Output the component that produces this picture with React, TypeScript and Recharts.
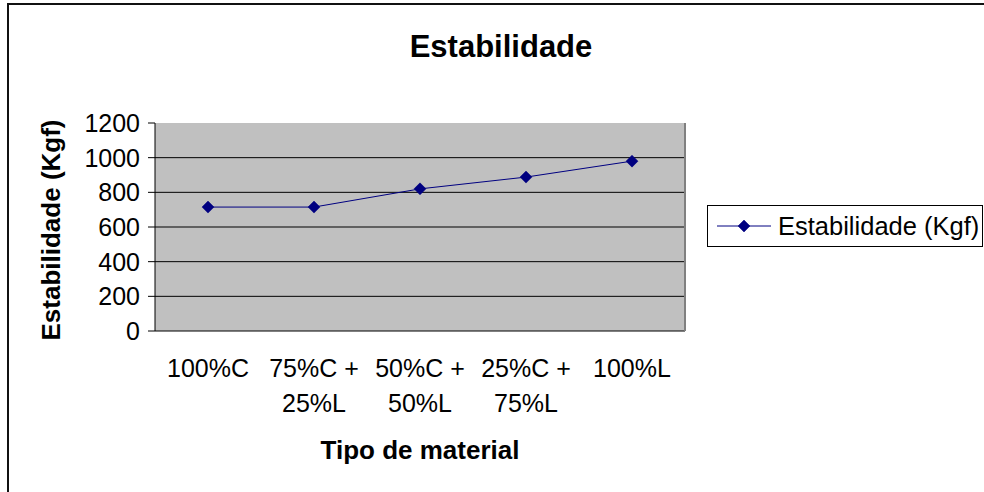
import React from 'react';
import { LineChart, Line, XAxis, YAxis, CartesianGrid, Legend, Label } from 'recharts';

const chartTitle = 'Estabilidade';
const xTitle = 'Tipo de material';
const yTitle = 'Estabilidade (Kgf)';
const seriesName = 'Estabilidade (Kgf)';

const categories = ['100%C', '75%C + 25%L', '50%C + 50%L', '25%C + 75%L', '100%L'];
const tickLabelLines = [['100%C'], ['75%C +', '25%L'], ['50%C +', '50%L'], ['25%C +', '75%L'], ['100%L']];
const values = [715, 715, 820, 888, 980];
const yTicks = [0, 200, 400, 600, 800, 1000, 1200];
const gridValues = [0, 200, 400, 600, 800, 1000];
const boundaryTicks = [0, 1, 2, 3, 4, 5];

const data = categories.map((c, i) => ({ name: c, value: values[i] }));

const FONT = '"Liberation Sans", Arial, Helvetica, sans-serif';
const NAVY = '#000080';

const Diamond = (props: any) => {
  const { cx, cy } = props;
  if (cx == null || cy == null) return null;
  const s = 6;
  return (
    <path
      d={`M${cx},${cy - s} L${cx + s},${cy} L${cx},${cy + s} L${cx - s},${cy} Z`}
      fill={NAVY}
      stroke={NAVY}
      strokeWidth={0.5}
    />
  );
};

const XTick = (props: any) => {
  const { x, y, payload } = props;
  const idx = categories.indexOf(payload.value);
  const lines = tickLabelLines[idx] || [payload.value];
  return (
    <text x={x} textAnchor="middle" fontFamily={FONT} fontSize={25} fill="#000">
      {lines.map((l, i) => (
        <tspan key={i} x={x} y={y + 46 + i * 35}>
          {l}
        </tspan>
      ))}
    </text>
  );
};

const LegendContent = () => (
  <div
    style={{
      border: '1px solid #000',
      background: '#fff',
      width: 276,
      height: 42,
      boxSizing: 'border-box',
      display: 'flex',
      alignItems: 'center',
      fontFamily: FONT,
      fontSize: 25.5,
      color: '#000',
      whiteSpace: 'nowrap',
    }}
  >
    <svg width={70} height={20} style={{ flex: 'none' }}>
      <line x1={9} y1={10} x2={63} y2={10} stroke={NAVY} strokeWidth={1} />
      <Diamond cx={36} cy={10} />
    </svg>
    <span>{seriesName}</span>
  </div>
);

export default function App() {
  return (
    <div
      style={{
        position: 'absolute',
        left: 0,
        top: 0,
        width: 984,
        height: 492,
        overflow: 'hidden',
        background: '#fff',
      }}
    >
      <div
        style={{
          position: 'absolute',
          left: 7,
          top: 3,
          width: 1100,
          height: 700,
          border: '2px solid #111',
          boxSizing: 'border-box',
        }}
      />
      <div
        style={{
          position: 'absolute',
          left: 0,
          top: 30,
          width: 1002,
          textAlign: 'center',
          fontFamily: FONT,
          fontWeight: 'bold',
          fontSize: 31,
          lineHeight: '34px',
          color: '#000',
        }}
      >
        {chartTitle}
      </div>
      <div style={{ position: 'absolute', left: 0, top: 0 }}>
        <LineChart width={984} height={492} data={data} margin={{ top: 123, right: 298, left: 0, bottom: 0 }}>
          <CartesianGrid
            xAxisId="cat"
            yAxisId="left"
            vertical={false}
            horizontalValues={gridValues}
            stroke="#000"
            strokeWidth={1}
            fill="#C0C0C0"
            fillOpacity={1}
          />
          <XAxis
            xAxisId="marks"
            type="number"
            domain={[0, 5]}
            ticks={boundaryTicks}
            interval={0}
            tick={false}
            tickSize={8}
            tickLine={{ stroke: '#000' }}
            axisLine={false}
            height={1}
          />
          <XAxis
            xAxisId="cat"
            dataKey="name"
            type="category"
            scale="band"
            interval={0}
            tickLine={false}
            tickSize={0}
            tickMargin={0}
            axisLine={false}
            tick={<XTick />}
            height={160}
          >
            <Label
              content={(p: any) => {
                const vb = p.viewBox || {};
                return (
                  <text
                    x={vb.x + vb.width / 2}
                    y={vb.y + 128}
                    textAnchor="middle"
                    fontFamily={FONT}
                    fontWeight="bold"
                    fontSize={26}
                    fill="#000"
                  >
                    {xTitle}
                  </text>
                );
              }}
            />
          </XAxis>
          <YAxis
            yAxisId="left"
            type="number"
            domain={[0, 1200]}
            ticks={yTicks}
            interval={0}
            width={155}
            tickSize={7}
            tickMargin={8}
            tickLine={{ stroke: '#000' }}
            axisLine={{ stroke: '#000' }}
            tick={{ fontFamily: FONT, fontSize: 25, fill: '#000' }}
          >
            <Label
              content={(p: any) => {
                const vb = p.viewBox || {};
                const cx = vb.x + 60;
                const cy = vb.y + vb.height / 2 + 3;
                return (
                  <text
                    x={cx}
                    y={cy}
                    transform={`rotate(-90, ${cx}, ${cy})`}
                    textAnchor="middle"
                    fontFamily={FONT}
                    fontWeight="bold"
                    fontSize={26}
                    fill="#000"
                  >
                    {yTitle}
                  </text>
                );
              }}
            />
          </YAxis>
          <YAxis
            yAxisId="right"
            orientation="right"
            type="number"
            domain={[0, 1]}
            width={1}
            tick={false}
            tickLine={false}
            axisLine={{ stroke: '#808080', strokeWidth: 2 }}
          />
          <Line
            xAxisId="cat"
            yAxisId="left"
            dataKey="value"
            name={seriesName}
            stroke={NAVY}
            strokeWidth={1}
            dot={<Diamond />}
            activeDot={false}
            isAnimationActive={false}
          />
          <Legend
            layout="horizontal"
            verticalAlign="middle"
            align="center"
            content={<LegendContent />}
            wrapperStyle={{ position: 'absolute', left: 707, top: 205, width: 'auto' }}
          />
        </LineChart>
      </div>
    </div>
  );
}
